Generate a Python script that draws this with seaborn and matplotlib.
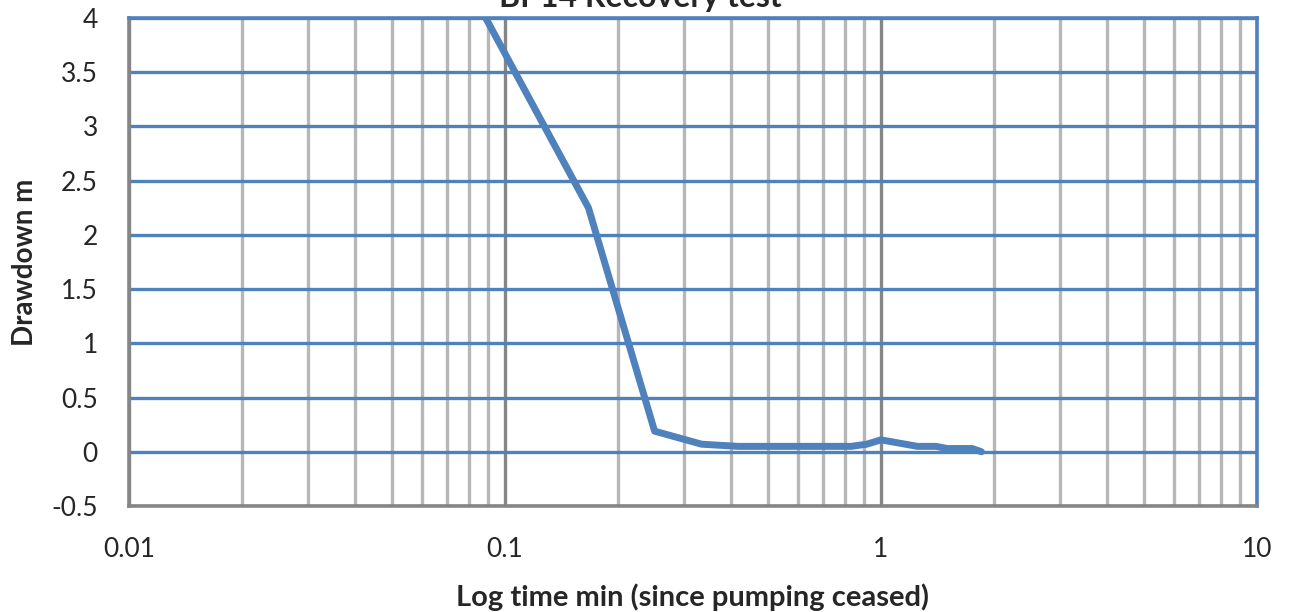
import matplotlib.pyplot as plt
import matplotlib.ticker as mticker
import pandas as pd
import seaborn as sns

# recovery test readings (minutes since pumping ceased, drawdown in m)
time_min = [0.0833, 0.1667, 0.25, 0.3333, 0.4167, 0.5, 0.5833, 0.6667, 0.75,
            0.8333, 0.9167, 1.0, 1.25, 1.4, 1.5, 1.75, 1.85]
drawdown_m = [4.18, 2.25, 0.19, 0.07, 0.05, 0.05, 0.05, 0.05, 0.05,
              0.05, 0.07, 0.11, 0.05, 0.05, 0.03, 0.03, 0.0]
x_ticks = [0.01, 0.1, 1, 10]
x_tick_labels = ["0.01", "0.1", "1", "10"]
y_ticks = [-0.5, 0, 0.5, 1, 1.5, 2, 2.5, 3, 3.5, 4]
y_tick_labels = ["-0.5", "0", "0.5", "1", "1.5", "2", "2.5", "3", "3.5", "4"]

BLUE = "#4F81BD"
DARK = "#868686"
LIGHT = "#B7B7B7"

sns.set_style("white")
plt.rcParams["font.family"] = ["Lato", "DejaVu Sans"]

df = pd.DataFrame({"time": time_min, "drawdown": drawdown_m})

fig = plt.figure(figsize=(12.9, 6.12), dpi=100)
ax = fig.add_axes([0.1, 0.1732, 0.8744, 0.7974])

sns.lineplot(data=df, x="time", y="drawdown", ax=ax, color=BLUE, linewidth=5, zorder=5)

ax.set_xscale("log")
ax.set_xlim(0.01, 10)
ax.set_ylim(-0.5, 4)

ax.set_xticks(x_ticks)
ax.set_xticklabels(x_tick_labels)
ax.xaxis.set_minor_locator(mticker.LogLocator(base=10, subs=range(2, 10)))
ax.xaxis.set_minor_formatter(mticker.NullFormatter())
ax.set_yticks(y_ticks)
ax.set_yticklabels(y_tick_labels)

# excel style grid
ax.grid(True, which="minor", axis="x", color=LIGHT, linewidth=2.4, zorder=1)
ax.grid(True, which="major", axis="x", color=DARK, linewidth=2.4, zorder=1)
ax.grid(True, which="major", axis="y", color=BLUE, linewidth=2.4, zorder=2)
ax.set_axisbelow(True)

for side in ["left", "bottom"]:
    ax.spines[side].set_color(DARK)
    ax.spines[side].set_linewidth(2.6)
for side in ["top", "right"]:
    ax.spines[side].set_color(BLUE)
    ax.spines[side].set_linewidth(2.6)

ax.tick_params(axis="x", which="major", direction="out", length=6, width=2.4,
               color=DARK, labelsize=19, pad=16)
ax.tick_params(axis="x", which="minor", direction="out", length=6, width=2.4, color=LIGHT)
ax.tick_params(axis="y", which="major", direction="out", length=9.5, width=2.4,
               color=DARK, labelsize=19, pad=13)

ax.set_xlabel("Log time min (since pumping ceased)", fontsize=21, fontweight="bold")
ax.set_ylabel("Drawdown m", fontsize=20, fontweight="bold")
ax.xaxis.set_label_coords(0.5, -0.1865)
ax.yaxis.set_label_coords(-0.0922, 0.5)
ax.xaxis.label.set_va("center")
ax.yaxis.label.set_va("center")

fig.text(0.4965, 0.9886, "BP14 Recovery test", ha="center", va="baseline",
         fontsize=23, fontweight="bold")

fig.savefig("out.png", dpi=100)
